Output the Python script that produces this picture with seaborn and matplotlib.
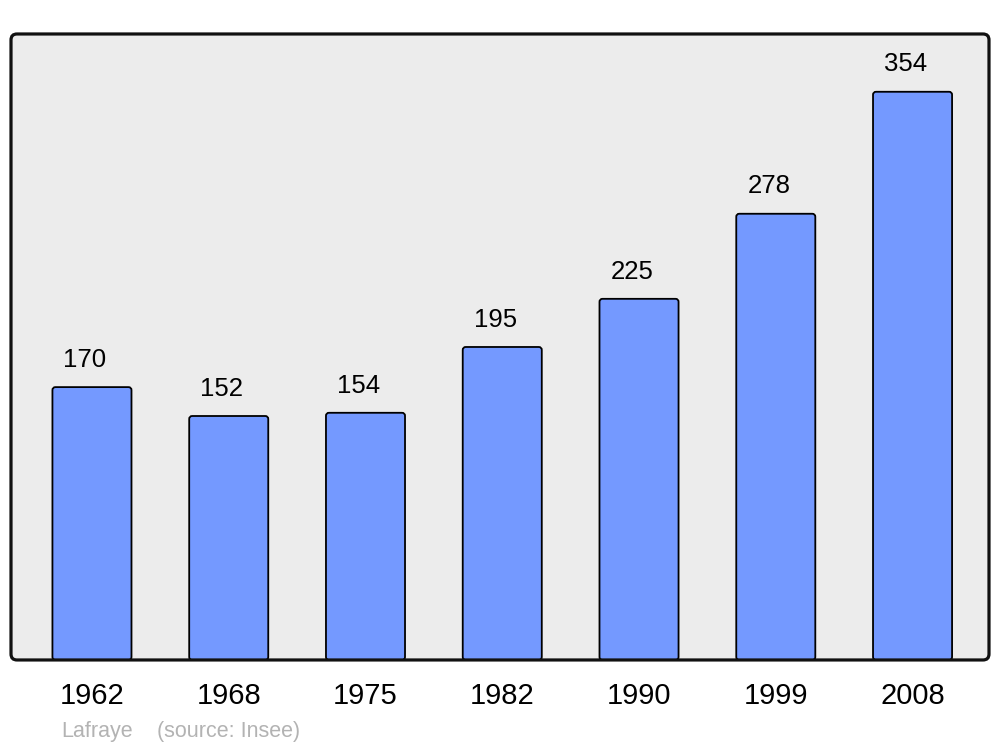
import pandas as pd
import numpy as np
import matplotlib.pyplot as plt
from matplotlib.patches import FancyBboxPatch
import seaborn as sns

# donnees
annees = ['1962', '1968', '1975', '1982', '1990', '1999', '2008']
population = [170, 152, 154, 195, 225, 278, 354]

sns.set_style('white')
plt.rcParams['font.family'] = ['Liberation Sans', 'DejaVu Sans']
plt.rcParams['text.color'] = 'black'
plt.rcParams['xtick.color'] = 'black'

df = pd.DataFrame({'annee': annees, 'pop': population})

fig = plt.figure(figsize=(10, 7.47), dpi=100)
ax = fig.add_axes([0.011, 0.1165, 0.978, 0.838])
ax.set_facecolor('#ececec')

sns.barplot(data=df, x='annee', y='pop', ax=ax, color='#7499ff',
            width=0.578, saturation=1, edgecolor='black', linewidth=1.3)

ax.set_xlim(-0.592, 6.559)
ax.set_ylim(0, 390)

# coins arrondis des barres
fig.canvas.draw()
px_x = (ax.get_xlim()[1] - ax.get_xlim()[0]) / (ax.bbox.width)
px_y = (ax.get_ylim()[1] - ax.get_ylim()[0]) / (ax.bbox.height)
for bar in list(ax.patches):
    x, y = bar.get_x(), bar.get_y()
    w, h = bar.get_width(), bar.get_height()
    fb = FancyBboxPatch((x, y), w, h,
                        boxstyle=f'round,pad=0,rounding_size={3 * px_x}',
                        mutation_aspect=px_y / px_x,
                        facecolor=bar.get_facecolor(), edgecolor='black',
                        linewidth=1.3, zorder=bar.get_zorder())
    bar.remove()
    ax.add_patch(fb)

# valeurs au dessus des barres
for i, v in enumerate(population):
    ax.annotate(str(v), (i, v), xytext=(-5, 11), textcoords='offset points',
                ha='center', va='bottom', fontsize=18.5, color='black')

ax.set_xlabel('')
ax.set_ylabel('')
ax.set_yticks([])
ax.tick_params(axis='x', length=0, pad=16, labelsize=21, labelcolor='black')
for s in ax.spines.values():
    s.set_visible(False)

# cadre arrondi
pos = ax.get_position()
cadre = FancyBboxPatch((pos.x0, pos.y0), pos.width, pos.height,
                       boxstyle='round,pad=0,rounding_size=0.006',
                       mutation_aspect=1000 / 747,
                       transform=fig.transFigure, facecolor='none',
                       edgecolor='#111111', linewidth=2.3, zorder=10)
fig.add_artist(cadre)

fig.text(0.061, 0.0135, 'Lafraye', color='#b3b3b3', fontsize=15.5)
fig.text(0.157, 0.0135, '(source: Insee)', color='#b3b3b3', fontsize=15.5)

fig.savefig('out.png', dpi=100)
